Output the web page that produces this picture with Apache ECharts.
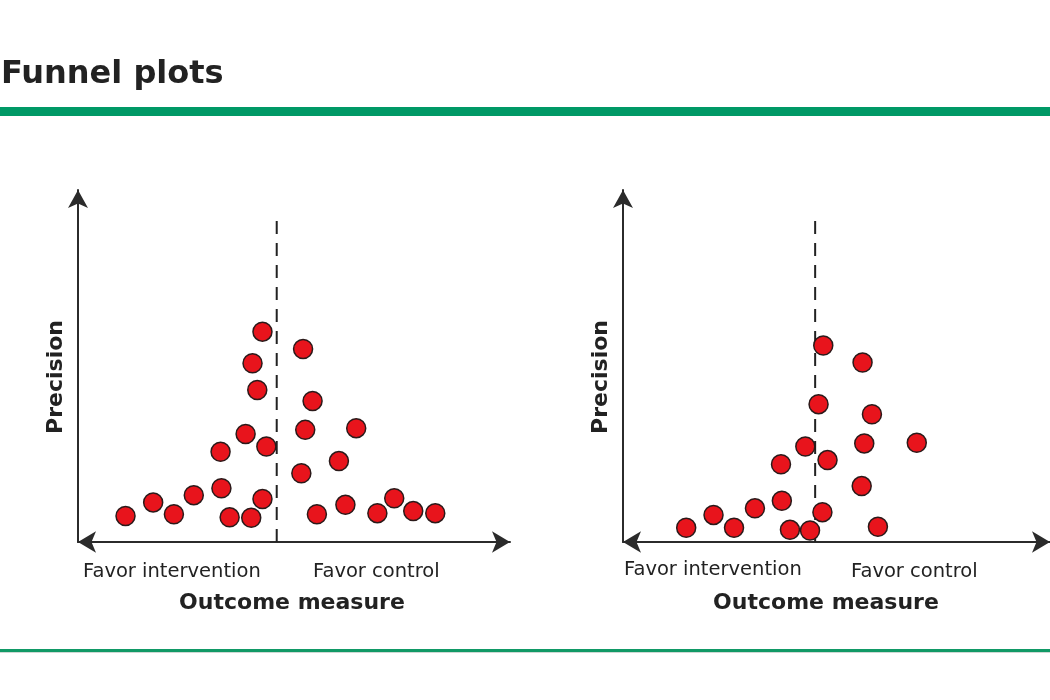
<!DOCTYPE html>
<html>
<head>
<meta charset="utf-8">
<script src="https://cdn.jsdelivr.net/npm/echarts@6/dist/echarts.min.js"></script>
<style>
html,body{margin:0;padding:0;background:#fff;}
#chart{width:1050px;height:700px;}
</style>
</head>
<body>
<div id="chart"></div>
<script>
// Data (outcome measure relative to pooled estimate at 0, precision 0-100)
const leftX = [-3.3, 6.1, -5.6, -4.5, 8.3, -7.2, 6.6, 18.4, -13.0, -2.4, 14.4, 5.7, -12.8, -19.2, -28.6, -3.3, -35.0, -23.8, -10.9, -5.9, 9.3, 15.9, 23.3, 27.2, 31.6, 36.7];
const leftY = [60.6, 55.6, 51.5, 43.8, 40.6, 31.1, 32.3, 32.8, 26.0, 27.5, 23.3, 19.8, 15.5, 13.5, 11.4, 12.4, 7.5, 8.0, 7.1, 7.0, 8.0, 10.7, 8.3, 12.6, 8.9, 8.3];
const rightX = [1.9, 11.1, 0.8, 13.3, -2.3, 11.5, 23.8, 2.9, -8.0, 10.9, -7.8, -14.1, 1.7, -23.8, -30.2, -19.0, -5.9, -1.2, 14.7];
const rightY = [56.6, 51.7, 39.7, 36.8, 27.5, 28.4, 28.6, 23.6, 22.4, 16.1, 11.9, 9.7, 8.6, 7.8, 4.1, 4.1, 3.5, 3.3, 4.4];
const centerLine = [[0, 0], [0, 94.5]];
const titleText = 'Funnel plots';
const yName = 'Precision';
const xName = 'Outcome measure';
const leftLabel = 'Favor intervention';
const rightLabel = 'Favor control';

const pairs = (xs, ys) => xs.map((x, i) => [x, ys[i]]);
const font = "'DejaVu Sans'";
const axisColor = '#2b2b2b';
const textColor = '#222';

function xAxisCfg(idx, min, max) {
  return {
    type: 'value', gridIndex: idx, min: min, max: max,
    axisLine: { show: true, onZero: false, symbol: ['arrow', 'arrow'], symbolSize: [16, 18], lineStyle: { color: axisColor, width: 2 } },
    axisTick: { show: false }, axisLabel: { show: false }, splitLine: { show: false }
  };
}
function yAxisCfg(idx) {
  return {
    type: 'value', gridIndex: idx, min: 0, max: 101.4,
    axisLine: { show: true, onZero: false, symbol: ['none', 'arrow'], symbolSize: [15, 18], lineStyle: { color: axisColor, width: 2 } },
    axisTick: { show: false }, axisLabel: { show: false }, splitLine: { show: false }
  };
}
const markerStyle = { color: '#e8141c', borderColor: '#2a1a1a', borderWidth: 1.5, opacity: 1 };
function scatter(idx, data) {
  return { type: 'scatter', xAxisIndex: idx, yAxisIndex: idx, data: data, symbolSize: 19, itemStyle: markerStyle, z: 5, silent: true };
}
function dashed(idx) {
  return { type: 'line', xAxisIndex: idx, yAxisIndex: idx, data: centerLine, symbol: 'none', lineStyle: { color: '#222', width: 2, type: [13, 9] }, z: 3, silent: true };
}
function txt(x, y, text, size, bold, extra) {
  return Object.assign({
    type: 'text', x: x, y: y, silent: true,
    style: { text: text, fontFamily: font, fontSize: size, fontWeight: bold ? 'bold' : 'normal', fill: textColor, align: 'left', verticalAlign: 'top' }
  }, extra || {});
}

const chart = echarts.init(document.getElementById('chart'), null, { renderer: 'canvas' });
const g = [
  { type: 'rect', shape: { x: 0, y: 107, width: 1050, height: 9 }, style: { fill: '#009966' } },
  { type: 'rect', shape: { x: 0, y: 649, width: 1050, height: 3 }, style: { fill: '#119966' } },
  { type: 'rect', shape: { x: 0, y: 652, width: 1050, height: 1 }, style: { fill: '#cfd8d4' } },
  txt(1, 59, titleText, 32, true),
  txt(83, 562, leftLabel, 19.5, false),
  txt(313, 562, rightLabel, 19.5, false),
  txt(624, 560, leftLabel, 19.5, false),
  txt(851, 562, rightLabel, 19.5, false)
];
const xc = [292, 826], pc = [56, 601];
[0, 1].forEach(i => {
  const t1 = txt(xc[i], 592, xName, 22, true); t1.style.align = 'center'; g.push(t1);
  const t2 = txt(pc[i], 377, yName, 22, true, { rotation: Math.PI / 2 });
  t2.style.align = 'center'; t2.style.verticalAlign = 'middle'; g.push(t2);
});

chart.setOption({
  backgroundColor: '#fff',
  animation: false,
  grid: [
    { left: 78, top: 190, width: 432, height: 352 },
    { left: 623, top: 190, width: 427, height: 352 }
  ],
  xAxis: [xAxisCfg(0, -46, 54), xAxisCfg(1, -45, 55)],
  yAxis: [yAxisCfg(0), yAxisCfg(1)],
  series: [
    dashed(0), scatter(0, pairs(leftX, leftY)),
    dashed(1), scatter(1, pairs(rightX, rightY))
  ],
  graphic: g
});
</script>
</body>
</html>
